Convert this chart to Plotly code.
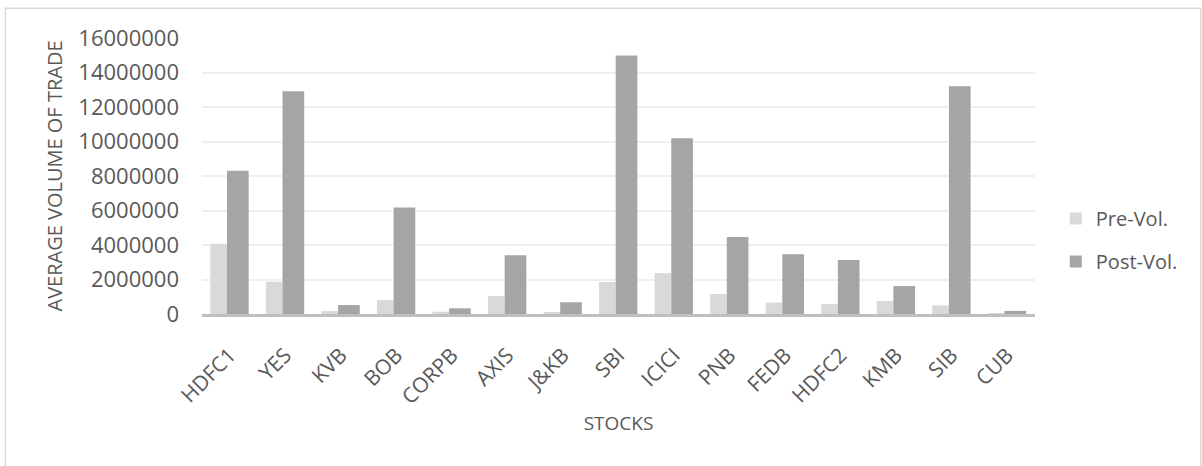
import plotly.graph_objects as go

stocks = ["HDFC1", "YES", "KVB", "BOB", "CORPB", "AXIS", "J&KB", "SBI", "ICICI",
          "PNB", "FEDB", "HDFC2", "KMB", "SIB", "CUB"]
pre_vol = [4070000, 1870000, 170000, 810000, 130000, 1040000, 60000, 1850000,
           2370000, 1160000, 660000, 580000, 750000, 500000, 20000]
post_vol = [8300000, 12910000, 520000, 6180000, 330000, 3400000, 680000, 14980000,
            10190000, 4460000, 3460000, 3130000, 1620000, 13200000, 180000]

FONT = "Open Sans"
TXT = "#595959"

fig = go.Figure()
fig.add_trace(go.Bar(x=stocks, y=pre_vol, name="Pre-Vol.", marker_color="#d9d9d9",
                     marker_line_width=0, offset=-0.35, width=0.30, legendgroup="a"))
fig.add_trace(go.Bar(x=stocks, y=post_vol, name="Post-Vol.", marker_color="#a5a5a5",
                     marker_line_width=0, offset=-0.05, width=0.39, legendgroup="b"))

fig.update_layout(
    width=1202, height=466,
    margin=dict(l=202, r=167, t=38, b=152),
    paper_bgcolor="white", plot_bgcolor="white",
    barmode="overlay",
    font=dict(family=FONT, color=TXT),
    legend=dict(x=1.025, y=0.268, xanchor="left", yanchor="middle",
                font=dict(size=20, color=TXT), tracegroupgap=14,
                bgcolor="rgba(0,0,0,0)"),
    xaxis=dict(
        title=dict(text="STOCKS", font=dict(size=19, color=TXT), standoff=8),
        tickangle=-45, tickfont=dict(size=21, color=TXT), ticklabelstandoff=18,
        showgrid=False, showline=True, linecolor="#bfbfbf", linewidth=2.5,
        ticks="", zeroline=False,
    ),
    yaxis=dict(
        title=dict(text="AVERAGE VOLUME OF TRADE", font=dict(size=20, color=TXT), standoff=10),
        range=[0, 16000000], dtick=2000000, tickformat="d",
        tickfont=dict(size=22, color=TXT), ticklabelstandoff=22,
        showgrid=True, gridcolor="#efefef", gridwidth=2,
        zeroline=False, showline=False, ticks="",
    ),
    shapes=[dict(type="rect", xref="paper", yref="paper",
                 x0=-0.236, x1=1.199, y0=-0.58, y1=1.1075,
                 line=dict(color="#d9d9d9", width=1.5), layer="below")],
)

fig.write_html("out.html")
